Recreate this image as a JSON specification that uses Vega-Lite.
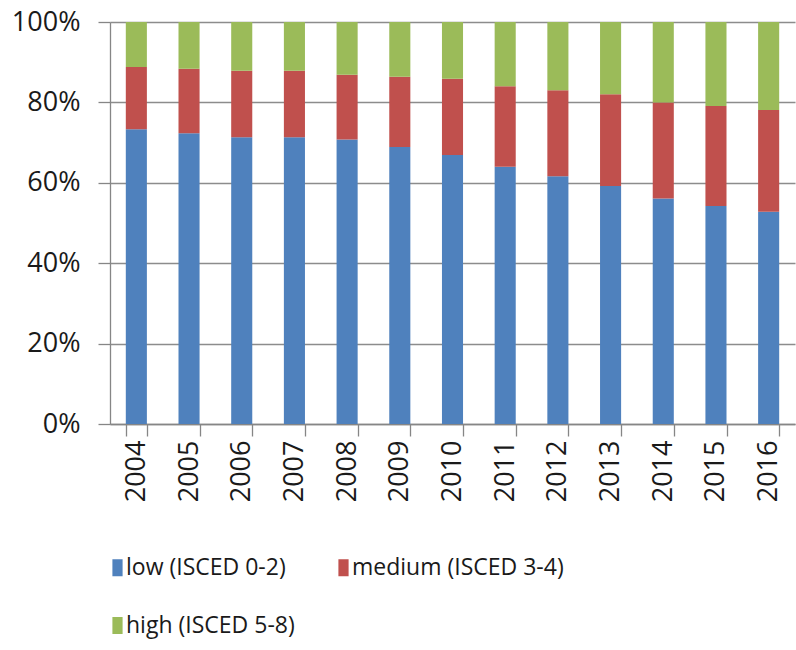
{
  "$schema": "https://vega.github.io/schema/vega-lite/v6.json",
  "autosize": "none",
  "padding": {"left": 110, "top": 22, "right": 1, "bottom": 226},
  "width": 685,
  "height": 402,
  "background": "white",
  "config": {
    "view": {"stroke": null},
    "font": "Open Sans",
    "axis": {
      "labelFont": "Open Sans",
      "labelFontSize": 27,
      "labelColor": "#1a1a1a",
      "domainColor": "#868686",
      "tickColor": "#868686",
      "gridColor": "#8c8c8c",
      "domainWidth": 1.3,
      "tickWidth": 1.3,
      "gridWidth": 1.3,
      "title": null
    },
    "legend": {
      "labelFont": "Open Sans",
      "labelFontSize": 23,
      "labelColor": "#1a1a1a",
      "labelLimit": 400,
      "padding": 0
    }
  },
  "data": {
    "values": [
      {"year": "2004", "level": "low (ISCED 0-2)", "rank": 1, "share": 73.3},
      {"year": "2004", "level": "medium (ISCED 3-4)", "rank": 2, "share": 15.5},
      {"year": "2004", "level": "high (ISCED 5-8)", "rank": 3, "share": 11.2},
      {"year": "2005", "level": "low (ISCED 0-2)", "rank": 1, "share": 72.3},
      {"year": "2005", "level": "medium (ISCED 3-4)", "rank": 2, "share": 16.1},
      {"year": "2005", "level": "high (ISCED 5-8)", "rank": 3, "share": 11.6},
      {"year": "2006", "level": "low (ISCED 0-2)", "rank": 1, "share": 71.3},
      {"year": "2006", "level": "medium (ISCED 3-4)", "rank": 2, "share": 16.6},
      {"year": "2006", "level": "high (ISCED 5-8)", "rank": 3, "share": 12.1},
      {"year": "2007", "level": "low (ISCED 0-2)", "rank": 1, "share": 71.3},
      {"year": "2007", "level": "medium (ISCED 3-4)", "rank": 2, "share": 16.6},
      {"year": "2007", "level": "high (ISCED 5-8)", "rank": 3, "share": 12.1},
      {"year": "2008", "level": "low (ISCED 0-2)", "rank": 1, "share": 70.8},
      {"year": "2008", "level": "medium (ISCED 3-4)", "rank": 2, "share": 16.1},
      {"year": "2008", "level": "high (ISCED 5-8)", "rank": 3, "share": 13.1},
      {"year": "2009", "level": "low (ISCED 0-2)", "rank": 1, "share": 68.9},
      {"year": "2009", "level": "medium (ISCED 3-4)", "rank": 2, "share": 17.5},
      {"year": "2009", "level": "high (ISCED 5-8)", "rank": 3, "share": 13.6},
      {"year": "2010", "level": "low (ISCED 0-2)", "rank": 1, "share": 66.9},
      {"year": "2010", "level": "medium (ISCED 3-4)", "rank": 2, "share": 19.0},
      {"year": "2010", "level": "high (ISCED 5-8)", "rank": 3, "share": 14.1},
      {"year": "2011", "level": "low (ISCED 0-2)", "rank": 1, "share": 64.0},
      {"year": "2011", "level": "medium (ISCED 3-4)", "rank": 2, "share": 20.0},
      {"year": "2011", "level": "high (ISCED 5-8)", "rank": 3, "share": 16.0},
      {"year": "2012", "level": "low (ISCED 0-2)", "rank": 1, "share": 61.6},
      {"year": "2012", "level": "medium (ISCED 3-4)", "rank": 2, "share": 21.4},
      {"year": "2012", "level": "high (ISCED 5-8)", "rank": 3, "share": 17.0},
      {"year": "2013", "level": "low (ISCED 0-2)", "rank": 1, "share": 59.2},
      {"year": "2013", "level": "medium (ISCED 3-4)", "rank": 2, "share": 22.8},
      {"year": "2013", "level": "high (ISCED 5-8)", "rank": 3, "share": 18.0},
      {"year": "2014", "level": "low (ISCED 0-2)", "rank": 1, "share": 56.1},
      {"year": "2014", "level": "medium (ISCED 3-4)", "rank": 2, "share": 23.9},
      {"year": "2014", "level": "high (ISCED 5-8)", "rank": 3, "share": 20.0},
      {"year": "2015", "level": "low (ISCED 0-2)", "rank": 1, "share": 54.2},
      {"year": "2015", "level": "medium (ISCED 3-4)", "rank": 2, "share": 24.9},
      {"year": "2015", "level": "high (ISCED 5-8)", "rank": 3, "share": 20.9},
      {"year": "2016", "level": "low (ISCED 0-2)", "rank": 1, "share": 52.8},
      {"year": "2016", "level": "medium (ISCED 3-4)", "rank": 2, "share": 25.3},
      {"year": "2016", "level": "high (ISCED 5-8)", "rank": 3, "share": 21.9}
    ]
  },
  "mark": {"type": "bar"},
  "encoding": {
    "x": {
      "field": "year",
      "type": "nominal",
      "scale": {"paddingInner": 0.6, "paddingOuter": 0.3},
      "axis": {
        "labelAngle": -90,
        "tickBand": "extent",
        "tickSize": 12,
        "labelPadding": 4,
        "grid": false
      }
    },
    "y": {
      "field": "share",
      "type": "quantitative",
      "stack": "zero",
      "scale": {"domain": [0, 100], "nice": false},
      "axis": {
        "values": [0, 20, 40, 60, 80, 100],
        "labelExpr": "datum.value + '%'",
        "tickSize": 12,
        "labelPadding": 18,
        "grid": true
      }
    },
    "order": {"field": "rank", "type": "quantitative", "sort": "ascending"},
    "color": {
      "field": "level",
      "type": "nominal",
      "sort": ["low (ISCED 0-2)", "medium (ISCED 3-4)", "high (ISCED 5-8)"],
      "scale": {
        "domain": ["low (ISCED 0-2)", "medium (ISCED 3-4)", "high (ISCED 5-8)"],
        "range": ["#4F81BD", "#C0504D", "#9BBB59"]
      },
      "legend": {
        "title": null,
        "orient": "none",
        "legendX": -4,
        "legendY": 534,
        "direction": "horizontal",
        "columns": 2,
        "columnPadding": 37,
        "rowPadding": 34,
        "symbolType": "M-0.6,-1H0.6V1H-0.6Z",
        "symbolSize": 289,
        "symbolStrokeWidth": 0,
        "labelOffset": -3
      }
    }
  }
}
